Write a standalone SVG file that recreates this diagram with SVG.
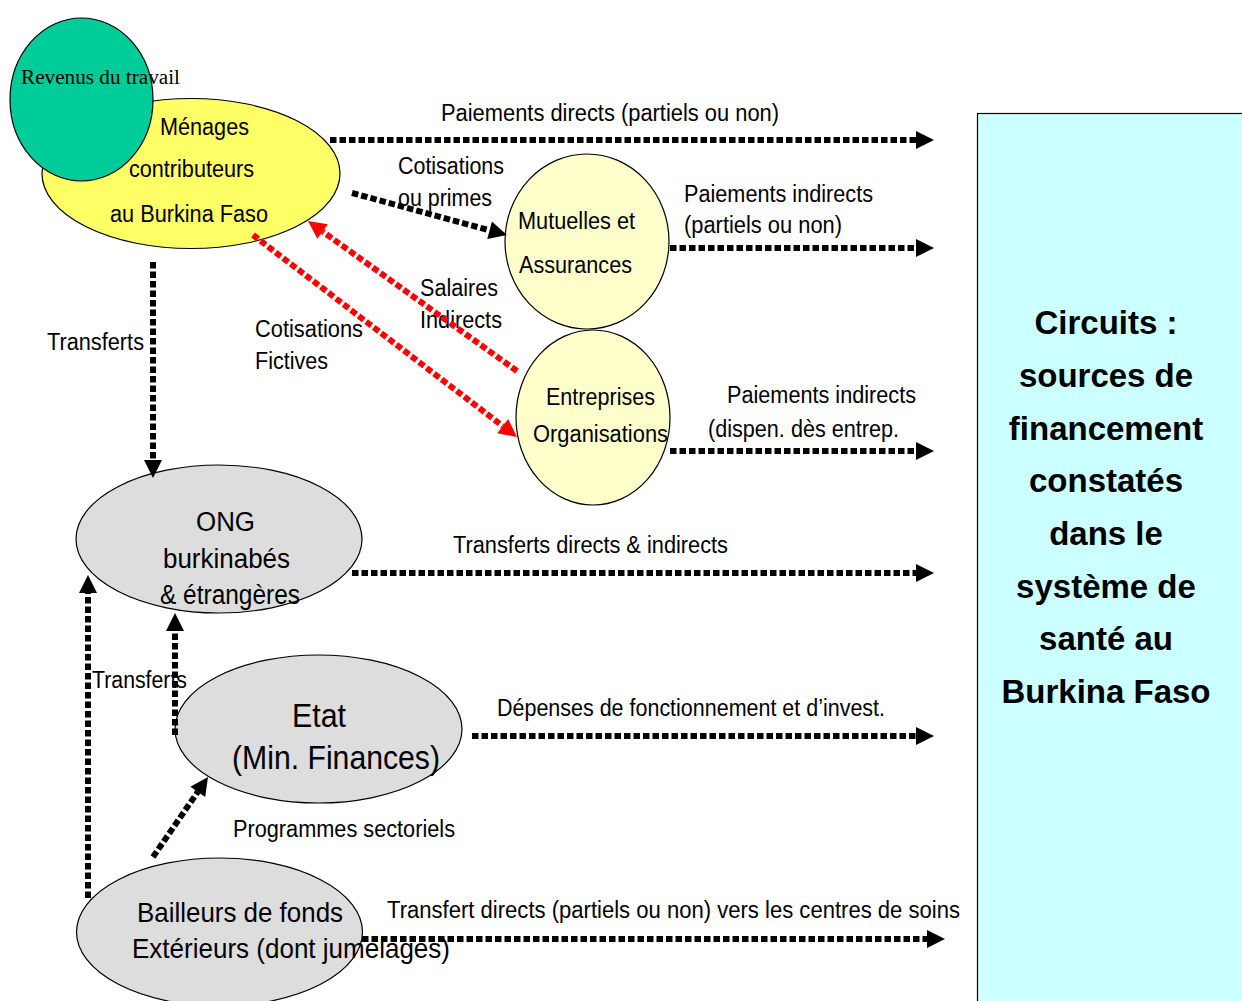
<svg xmlns="http://www.w3.org/2000/svg" width="1242" height="1001" viewBox="0 0 1242 1001">
<style>
text{font-family:"Liberation Sans",Arial,sans-serif;fill:#000}
.lbl{font-size:23px;white-space:pre}
.n{stroke:#000;stroke-width:1.2}
.c{fill:none;stroke:#000;stroke-width:6;stroke-dasharray:6.5 3}
.r{fill:none;stroke:#ff0000;stroke-width:6;stroke-dasharray:6.5 3}
.box{font-size:33px;font-weight:bold}
</style>
<defs>
<marker id="ah" markerUnits="userSpaceOnUse" markerWidth="19" markerHeight="19" refX="0" refY="9" orient="auto" overflow="visible">
<path d="M0,0 L18,9 L0,18 z" fill="#000"/>
</marker>
<marker id="ahr" markerUnits="userSpaceOnUse" markerWidth="19" markerHeight="19" refX="0" refY="9" orient="auto" overflow="visible">
<path d="M0,0 L18,9 L0,18 z" fill="#ff0000"/>
</marker>
</defs>
<rect x="0" y="0" width="1242" height="1001" fill="#fff"/>

<g id="menages">
<ellipse class="n" cx="191" cy="173.5" rx="149" ry="75" fill="#ffff66"/>
<text x="160" y="135" font-size="23" textLength="89" lengthAdjust="spacingAndGlyphs">Ménages</text>
<text x="129" y="177" font-size="23" textLength="125" lengthAdjust="spacingAndGlyphs">contributeurs</text>
<text x="110" y="222" font-size="23" textLength="158" lengthAdjust="spacingAndGlyphs">au Burkina Faso</text>
</g>
<g id="revenus">
<ellipse class="n" cx="81.5" cy="99.5" rx="71.5" ry="81.5" fill="#00cc99"/>
<text x="21" y="84" font-size="20" style="font-family:'Liberation Serif','Times New Roman',serif" textLength="159" lengthAdjust="spacingAndGlyphs">Revenus du travail</text>
</g>
<g id="mutuelles">
<ellipse class="n" cx="587" cy="241.5" rx="82" ry="87.5" fill="#ffffcc"/>
<text x="518" y="229" font-size="23" textLength="117" lengthAdjust="spacingAndGlyphs">Mutuelles et</text>
<text x="519" y="273" font-size="23" textLength="113" lengthAdjust="spacingAndGlyphs">Assurances</text>
</g>
<g id="entreprises">
<ellipse class="n" cx="593" cy="417.5" rx="77" ry="87.5" fill="#ffffcc"/>
<text x="546" y="405" font-size="23" textLength="109" lengthAdjust="spacingAndGlyphs">Entreprises</text>
<text x="533" y="442" font-size="23" textLength="135" lengthAdjust="spacingAndGlyphs">Organisations</text>
</g>
<g id="ong">
<ellipse class="n" cx="219" cy="539" rx="143" ry="74" fill="#dddddd"/>
<text x="196" y="531" font-size="27" textLength="59" lengthAdjust="spacingAndGlyphs">ONG</text>
<text x="163" y="568" font-size="27" textLength="127" lengthAdjust="spacingAndGlyphs">burkinabés</text>
<text x="160" y="604" font-size="27" textLength="140" lengthAdjust="spacingAndGlyphs">&amp; étrangères</text>
</g>
<g id="etat">
<ellipse class="n" cx="318.5" cy="729" rx="143.5" ry="74" fill="#dddddd"/>
<text x="292" y="727" font-size="33" textLength="54" lengthAdjust="spacingAndGlyphs">Etat</text>
<text x="232" y="769" font-size="33" textLength="208" lengthAdjust="spacingAndGlyphs">(Min. Finances)</text>
</g>
<g id="bailleurs">
<ellipse class="n" cx="219.5" cy="932" rx="143" ry="74" fill="#dddddd"/>
<text x="137" y="922" font-size="28" textLength="206" lengthAdjust="spacingAndGlyphs">Bailleurs de fonds</text>
<text x="132" y="958" font-size="28" textLength="318" lengthAdjust="spacingAndGlyphs">Extérieurs (dont jumelages)</text>
</g>

<g id="labels" class="lbl">
<text x="441" y="121" textLength="338" lengthAdjust="spacingAndGlyphs">Paiements directs (partiels ou non)</text>
<text x="398" y="174" textLength="106" lengthAdjust="spacingAndGlyphs">Cotisations</text>
<text x="398" y="206" textLength="94" lengthAdjust="spacingAndGlyphs">ou primes</text>
<text x="684" y="202" textLength="189" lengthAdjust="spacingAndGlyphs">Paiements indirects</text>
<text x="684" y="233" textLength="158" lengthAdjust="spacingAndGlyphs">(partiels ou non)</text>
<text x="420" y="296" textLength="78" lengthAdjust="spacingAndGlyphs">Salaires</text>
<text x="420" y="328" textLength="82" lengthAdjust="spacingAndGlyphs">Indirects</text>
<text x="255" y="337" textLength="108" lengthAdjust="spacingAndGlyphs">Cotisations</text>
<text x="255" y="369" textLength="73" lengthAdjust="spacingAndGlyphs">Fictives</text>
<text x="47" y="350" textLength="97" lengthAdjust="spacingAndGlyphs">Transferts</text>
<text x="727" y="403" textLength="189" lengthAdjust="spacingAndGlyphs">Paiements indirects</text>
<text x="708" y="437" textLength="191" lengthAdjust="spacingAndGlyphs">(dispen. dès entrep.</text>
<text x="453" y="553" textLength="275" lengthAdjust="spacingAndGlyphs">Transferts directs &amp; indirects</text>
<text x="92" y="688" textLength="95" lengthAdjust="spacingAndGlyphs">Transferts</text>
<text x="497" y="716" textLength="388" lengthAdjust="spacingAndGlyphs">Dépenses de fonctionnement et d’invest.</text>
<text x="233" y="837" textLength="222" lengthAdjust="spacingAndGlyphs">Programmes sectoriels</text>
<text x="387" y="918" textLength="573" lengthAdjust="spacingAndGlyphs">Transfert directs (partiels ou non)  vers les centres de soins</text>
</g>

<g id="connectors">
<line class="c" x1="330" y1="140" x2="916" y2="140" marker-end="url(#ah)"/>
<line class="c" x1="352" y1="193" x2="489.6" y2="230.3" marker-end="url(#ah)"/>
<line class="c" x1="670" y1="248" x2="916" y2="248" marker-end="url(#ah)"/>
<line class="c" x1="670" y1="451" x2="916" y2="451" marker-end="url(#ah)"/>
<line class="c" x1="153" y1="262" x2="153" y2="460" marker-end="url(#ah)"/>
<line class="c" x1="352" y1="573" x2="916" y2="573" marker-end="url(#ah)"/>
<line class="c" x1="472" y1="736" x2="916" y2="736" marker-end="url(#ah)"/>
<line class="c" x1="362" y1="939" x2="927" y2="939" marker-end="url(#ah)"/>
<line class="r" x1="517" y1="371" x2="322.6" y2="231.5" marker-end="url(#ahr)"/>
<line class="r" x1="253" y1="235" x2="502.7" y2="426.1" marker-end="url(#ahr)"/>
<line class="c" x1="88" y1="898" x2="88" y2="593" marker-end="url(#ah)"/>
<line class="c" x1="175" y1="735" x2="175" y2="631" marker-end="url(#ah)"/>
<line class="c" x1="153" y1="857" x2="197.8" y2="791.8" marker-end="url(#ah)"/>
</g>

<g id="circuits">
<rect x="977.5" y="113.5" width="300" height="900" fill="#ccffff" stroke="#000" stroke-width="1.2"/>
<g class="box" text-anchor="middle">
<text x="1106" y="334">Circuits :</text>
<text x="1106" y="387">sources de</text>
<text x="1106" y="440">financement</text>
<text x="1106" y="492">constatés</text>
<text x="1106" y="545">dans le</text>
<text x="1106" y="598">système de</text>
<text x="1106" y="650">santé au</text>
<text x="1106" y="703">Burkina Faso</text>
</g>
</g>
</svg>
